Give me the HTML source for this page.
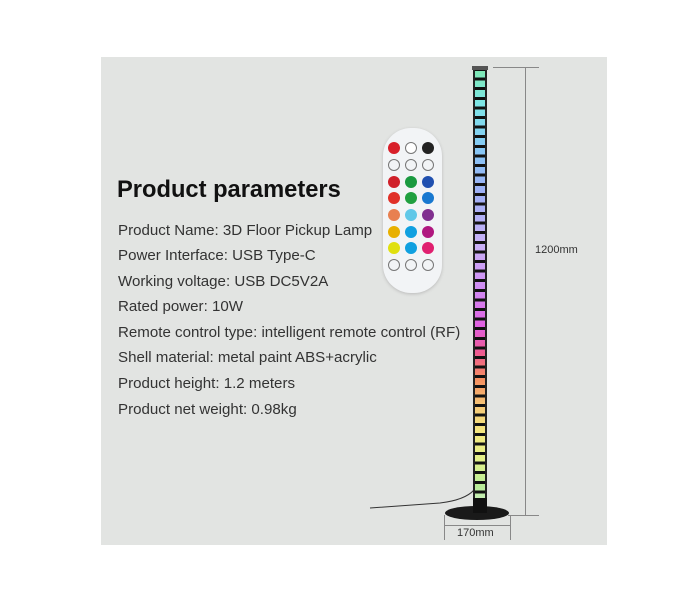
<!DOCTYPE html>
<html><head><style>
body{margin:0;width:700px;height:600px;background:#fff;position:relative;overflow:hidden;font-family:"Liberation Sans",sans-serif}
.panel{position:absolute;left:101px;top:57px;width:506px;height:488px;background:#e2e4e2}
.t{position:absolute;left:118px;color:#333;font-size:15.1px;white-space:nowrap}
.h{position:absolute;left:117px;top:177px;font-size:23.7px;font-weight:bold;color:#111}
.pole{position:absolute;left:473px;top:68px;width:14px;height:445px;background:linear-gradient(#7fe8b0 0%,#7ee6e6 8%,#86c8f5 18%,#9fb0f5 28%,#c9b0f5 40%,#d08af2 50%,#e060e0 58%,#ee5a90 64%,#f59060 70%,#f5c878 76%,#f4e880 82%,#e4f08a 88%,#b8ec98 94%,#d8f0d8 100%)}
.stripes{position:absolute;left:473px;top:68px;width:14px;height:445px;background:repeating-linear-gradient(#111 0 3px,transparent 3px 9.6px);box-shadow:inset 2px 0 0 #222,inset -2px 0 0 #222}
.ln{position:absolute;background:#888}
.b{position:absolute;width:12px;height:12px;border-radius:50%}
</style></head><body>
<div class="panel"></div>
<div class="h">Product parameters</div>
<div class="t" style="top:222px">Product Name: 3D Floor Pickup Lamp</div>
<div class="t" style="top:247px">Power Interface: USB Type-C</div>
<div class="t" style="top:273px">Working voltage: USB DC5V2A</div>
<div class="t" style="top:298px">Rated power: 10W</div>
<div class="t" style="top:324px">Remote control type: intelligent remote control (RF)</div>
<div class="t" style="top:349px">Shell material: metal paint ABS+acrylic</div>
<div class="t" style="top:375px">Product height: 1.2 meters</div>
<div class="t" style="top:401px">Product net weight: 0.98kg</div>

<!-- remote -->
<div style="position:absolute;left:383px;top:128px;width:59px;height:165px;border-radius:28px;background:#f2f4f6;box-shadow:0 1px 3px #bbb"></div>
<div class="b" style="left:388px;top:142px;background:#d8202a"></div>
<div class="b" style="left:405px;top:142px;background:#fff;border:1px solid #777;width:10px;height:10px"></div>
<div class="b" style="left:422px;top:142px;background:#222"></div>
<div class="b" style="left:388px;top:159px;border:1px solid #777;width:10px;height:10px"></div>
<div class="b" style="left:405px;top:159px;border:1px solid #777;width:10px;height:10px"></div>
<div class="b" style="left:422px;top:159px;border:1px solid #777;width:10px;height:10px"></div>
<div class="b" style="left:388px;top:176px;background:#d0202a"></div>
<div class="b" style="left:405px;top:176px;background:#1a9a40"></div>
<div class="b" style="left:422px;top:176px;background:#2050b0"></div>
<div class="b" style="left:388px;top:192px;background:#e03028"></div>
<div class="b" style="left:405px;top:192px;background:#20a040"></div>
<div class="b" style="left:422px;top:192px;background:#1878d0"></div>
<div class="b" style="left:388px;top:209px;background:#e88050"></div>
<div class="b" style="left:405px;top:209px;background:#60c8e8"></div>
<div class="b" style="left:422px;top:209px;background:#803090"></div>
<div class="b" style="left:388px;top:226px;background:#e8b000"></div>
<div class="b" style="left:405px;top:226px;background:#10a0e0"></div>
<div class="b" style="left:422px;top:226px;background:#b01880"></div>
<div class="b" style="left:388px;top:242px;background:#e0e010"></div>
<div class="b" style="left:405px;top:242px;background:#10a0e0"></div>
<div class="b" style="left:422px;top:242px;background:#e02070"></div>
<div class="b" style="left:388px;top:259px;border:1px solid #777;width:10px;height:10px"></div>
<div class="b" style="left:405px;top:259px;border:1px solid #777;width:10px;height:10px"></div>
<div class="b" style="left:422px;top:259px;border:1px solid #777;width:10px;height:10px"></div>

<!-- lamp -->
<svg style="position:absolute;left:0;top:0" width="700" height="600">
<path d="M474 490 Q465 500 440 503 L370 508" stroke="#333" fill="none" stroke-width="1"/>
<ellipse cx="477" cy="513" rx="32" ry="7" fill="#1a1a1a"/>
</svg>
<div class="pole"></div>
<div class="stripes"></div>
<div style="position:absolute;left:472px;top:66px;width:16px;height:4px;background:#555"></div>
<div style="position:absolute;left:473px;top:498px;width:14px;height:15px;background:#111"></div>

<!-- dimensions -->
<div class="ln" style="left:493px;top:67px;width:46px;height:1px"></div>
<div class="ln" style="left:525px;top:67px;width:1px;height:448px"></div>
<div class="ln" style="left:508px;top:515px;width:31px;height:1px"></div>
<div style="position:absolute;left:535px;top:244px;font-size:11px;color:#333">1200mm</div>
<div class="ln" style="left:444px;top:515px;width:1px;height:25px"></div>
<div class="ln" style="left:510px;top:515px;width:1px;height:25px"></div>
<div class="ln" style="left:444px;top:525px;width:66px;height:1px"></div>
<div style="position:absolute;left:457px;top:527px;font-size:11px;color:#333">170mm</div>
</body></html>
